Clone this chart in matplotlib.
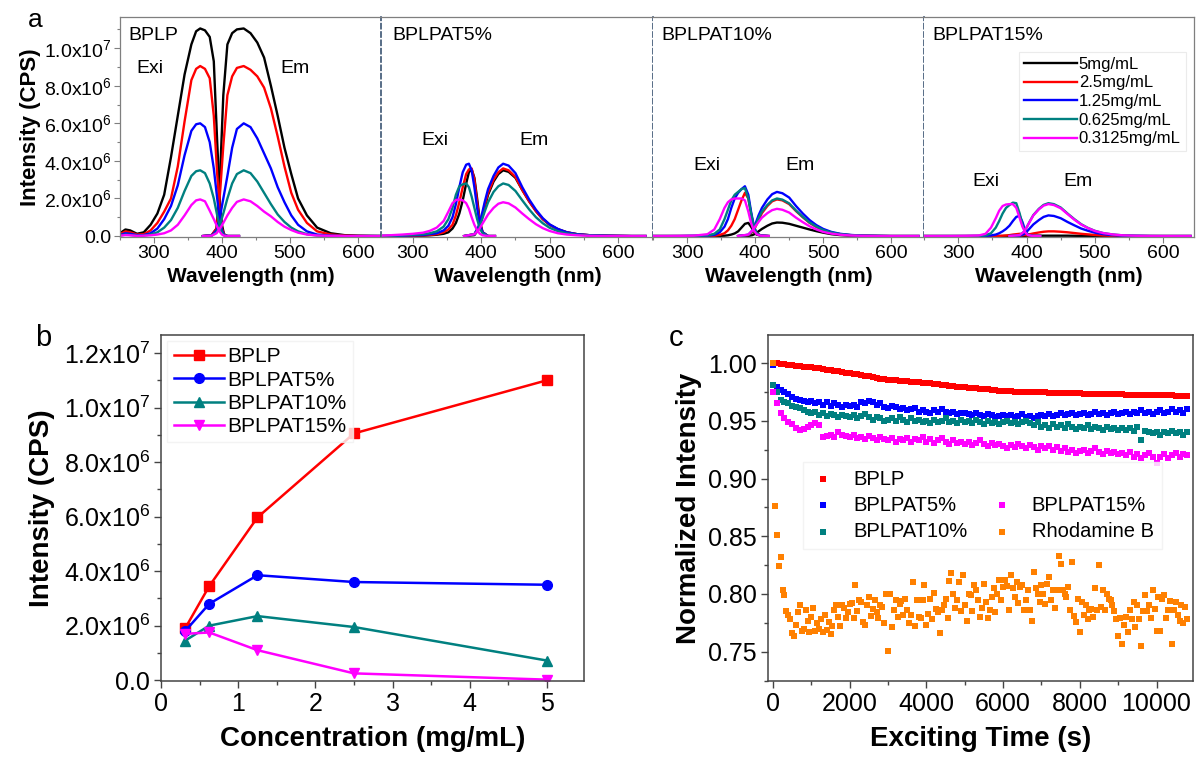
import matplotlib
matplotlib.use('Agg')
import matplotlib.pyplot as plt
from matplotlib.lines import Line2D
from matplotlib.ticker import MultipleLocator, FuncFormatter
import numpy as np
import math

plt.rcParams['font.family'] = ['Liberation Sans', 'DejaVu Sans']
plt.rcParams['mathtext.fontset'] = 'custom'
plt.rcParams['mathtext.rm'] = 'Liberation Sans'
plt.rcParams['mathtext.default'] = 'regular'

W, H = 1196, 757

# ---------------- data ----------------
conc_labels = ['5mg/mL', '2.5mg/mL', '1.25mg/mL', '0.625mg/mL', '0.3125mg/mL']
conc_colors = ['#000000', '#FF0000', '#0000FF', '#008080', '#FF00FF']
samples = ['BPLP', 'BPLPAT5%', 'BPLPAT10%', 'BPLPAT15%']

# spectra, intensity in units of 1e6 CPS; rows follow conc_labels
exi_wl_bplp = [250, 258, 265, 275, 285, 295, 305, 315, 325, 335, 345, 355, 362,
               368, 375, 382, 388, 393, 397, 400, 403, 408, 425]
exi_bplp = [
    [0.15, 0.35, 0.3, 0.12, 0.2, 0.6, 1.2, 2.2, 4.2, 6.4, 8.6, 10.2, 10.9, 11.05, 10.95, 10.6, 9.3, 5.0, 1.8, 0.6, 0.1, 0.0, 0.0],
    [0.1, 0.25, 0.2, 0.08, 0.1, 0.3, 0.7, 1.3, 2.0, 3.7, 6.1, 8.3, 8.9, 9.05, 8.9, 8.4, 6.4, 3.3, 1.3, 0.4, 0.08, 0.0, 0.0],
    [0.05, 0.15, 0.12, 0.05, 0.05, 0.15, 0.4, 0.9, 1.6, 2.7, 4.3, 5.6, 5.95, 6.0, 5.8, 5.0, 3.6, 2.0, 0.8, 0.3, 0.06, 0.0, 0.0],
    [0.03, 0.08, 0.06, 0.02, 0.03, 0.08, 0.2, 0.45, 0.85, 1.5, 2.4, 3.2, 3.45, 3.5, 3.35, 2.8, 2.0, 1.1, 0.5, 0.18, 0.04, 0.0, 0.0],
    [0.02, 0.05, 0.04, 0.01, 0.02, 0.04, 0.08, 0.15, 0.3, 0.6, 1.1, 1.65, 1.9, 1.95, 1.85, 1.35, 0.9, 0.5, 0.22, 0.08, 0.02, 0.0, 0.0],
]
em_wl_bplp = [372, 385, 392, 397, 402, 408, 415, 422, 432, 442, 452, 462, 472, 482,
              492, 502, 512, 525, 540, 560, 580, 600, 620, 640]
em_bplp = [
    [0, 0.05, 0.4, 3.0, 7.5, 10.2, 10.8, 11.0, 11.05, 10.8, 10.3, 9.5, 8.0, 6.4, 4.7, 3.3, 2.0, 1.1, 0.45, 0.15, 0.05, 0.02, 0.01, 0],
    [0, 0.05, 0.4, 2.2, 4.8, 7.5, 8.5, 8.95, 9.05, 8.85, 8.5, 7.9, 6.8, 5.3, 3.7, 2.3, 1.4, 0.7, 0.25, 0.08, 0.03, 0.01, 0, 0],
    [0, 0.03, 0.3, 1.0, 2.0, 3.2, 4.7, 5.7, 6.0, 5.8, 5.2, 4.4, 3.6, 2.6, 1.8, 1.1, 0.6, 0.25, 0.08, 0.02, 0, 0, 0, 0],
    [0, 0.03, 0.2, 0.6, 1.2, 2.0, 2.8, 3.3, 3.5, 3.35, 2.9, 2.3, 1.7, 1.15, 0.75, 0.45, 0.25, 0.1, 0.03, 0.01, 0, 0, 0, 0],
    [0, 0.02, 0.15, 0.4, 0.7, 1.1, 1.5, 1.82, 1.95, 1.85, 1.6, 1.3, 1.05, 0.75, 0.5, 0.32, 0.18, 0.08, 0.03, 0.01, 0, 0, 0, 0],
]

exi_wl_at5 = [255, 270, 285, 300, 315, 325, 335, 345, 352, 358, 363, 368, 373, 378,
              382, 386, 390, 394, 398, 402, 410, 420]
exi_at5 = [
    [0, 0, 0, 0.01, 0.02, 0.04, 0.07, 0.12, 0.2, 0.4, 0.7, 1.2, 1.9, 2.8, 3.4, 3.55, 3.1, 2.0, 0.8, 0.2, 0, 0],
    [0, 0, 0.01, 0.02, 0.04, 0.06, 0.1, 0.2, 0.35, 0.6, 1.1, 1.8, 2.6, 3.3, 3.55, 3.6, 3.0, 1.8, 0.7, 0.2, 0, 0],
    [0, 0.01, 0.02, 0.04, 0.06, 0.1, 0.15, 0.3, 0.55, 1.0, 1.7, 2.6, 3.4, 3.8, 3.85, 3.5, 2.6, 1.5, 0.6, 0.2, 0, 0],
    [0.01, 0.02, 0.04, 0.07, 0.1, 0.15, 0.25, 0.5, 0.9, 1.5, 2.2, 2.65, 2.75, 2.8, 2.6, 2.1, 1.5, 0.9, 0.4, 0.15, 0, 0],
    [0.02, 0.05, 0.08, 0.12, 0.18, 0.28, 0.45, 0.8, 1.3, 1.75, 1.92, 1.95, 1.9, 1.75, 1.45, 1.0, 0.6, 0.3, 0.12, 0.04, 0, 0],
]
em_wl = [375, 390, 396, 400, 405, 410, 418, 425, 432, 440, 450, 460, 470, 480,
         490, 500, 512, 525, 540, 560, 580, 600, 620, 640]
em_at5 = [
    [0, 0.05, 0.35, 0.8, 1.5, 2.2, 2.9, 3.3, 3.5, 3.42, 3.1, 2.45, 1.85, 1.33, 0.9, 0.6, 0.36, 0.2, 0.1, 0.04, 0.02, 0.01, 0, 0],
    [0, 0.1, 0.45, 0.9, 1.65, 2.3, 3.0, 3.4, 3.6, 3.5, 3.15, 2.45, 1.85, 1.32, 0.9, 0.6, 0.36, 0.2, 0.1, 0.04, 0.02, 0.01, 0, 0],
    [0, 0.1, 0.5, 1.0, 1.8, 2.5, 3.2, 3.65, 3.85, 3.75, 3.35, 2.6, 1.95, 1.4, 0.95, 0.62, 0.38, 0.2, 0.1, 0.04, 0.02, 0.01, 0, 0],
    [0, 0.1, 0.4, 0.75, 1.3, 1.8, 2.35, 2.65, 2.8, 2.72, 2.4, 1.9, 1.42, 1.0, 0.68, 0.44, 0.26, 0.14, 0.07, 0.03, 0.01, 0, 0, 0],
    [0, 0.1, 0.3, 0.55, 0.85, 1.15, 1.5, 1.72, 1.8, 1.74, 1.52, 1.2, 0.9, 0.63, 0.42, 0.27, 0.15, 0.08, 0.04, 0.01, 0, 0, 0, 0],
]

exi_wl = [250, 270, 290, 310, 330, 340, 348, 355, 360, 365, 370, 375, 380, 385,
          390, 394, 398, 402, 408, 420]
exi_at10 = [
    [0, 0, 0, 0, 0, 0, 0.01, 0.02, 0.04, 0.08, 0.14, 0.25, 0.45, 0.65, 0.7, 0.5, 0.25, 0.08, 0.02, 0],
    [0, 0, 0, 0, 0.01, 0.02, 0.06, 0.15, 0.3, 0.55, 0.9, 1.4, 1.9, 2.3, 2.0, 1.2, 0.5, 0.15, 0.03, 0],
    [0, 0, 0, 0.01, 0.02, 0.06, 0.2, 0.5, 0.9, 1.5, 2.0, 2.3, 2.5, 2.65, 2.2, 1.3, 0.55, 0.15, 0.03, 0],
    [0, 0, 0, 0.01, 0.04, 0.12, 0.35, 0.9, 1.4, 1.9, 2.2, 2.35, 2.5, 2.55, 2.0, 1.2, 0.5, 0.15, 0.03, 0],
    [0, 0, 0.01, 0.02, 0.1, 0.35, 0.9, 1.5, 1.8, 1.95, 2.0, 2.0, 2.0, 1.9, 1.3, 0.7, 0.3, 0.1, 0.02, 0],
]
em_at10 = [
    [0, 0.01, 0.05, 0.12, 0.25, 0.38, 0.55, 0.67, 0.72, 0.71, 0.65, 0.55, 0.45, 0.35, 0.26, 0.18, 0.1, 0.05, 0.02, 0.01, 0, 0, 0, 0],
    [0, 0.05, 0.22, 0.45, 0.85, 1.22, 1.6, 1.85, 1.95, 1.9, 1.7, 1.33, 1.0, 0.7, 0.48, 0.31, 0.18, 0.1, 0.05, 0.02, 0.01, 0, 0, 0],
    [0, 0.07, 0.3, 0.6, 1.1, 1.5, 1.95, 2.23, 2.35, 2.28, 2.05, 1.6, 1.2, 0.85, 0.58, 0.38, 0.22, 0.12, 0.06, 0.02, 0.01, 0, 0, 0],
    [0, 0.06, 0.26, 0.52, 0.94, 1.3, 1.66, 1.9, 2.0, 1.94, 1.74, 1.36, 1.02, 0.72, 0.5, 0.32, 0.19, 0.1, 0.05, 0.02, 0.01, 0, 0, 0],
    [0, 0.08, 0.3, 0.5, 0.75, 0.98, 1.22, 1.38, 1.45, 1.4, 1.25, 0.98, 0.74, 0.52, 0.35, 0.22, 0.13, 0.07, 0.03, 0.01, 0, 0, 0, 0],
]

exi_at15 = [
    [0, 0, 0, 0, 0, 0, 0, 0, 0, 0, 0.01, 0.01, 0.02, 0.02, 0.02, 0.01, 0.01, 0, 0, 0],
    [0, 0, 0, 0, 0, 0, 0, 0.01, 0.01, 0.02, 0.03, 0.05, 0.08, 0.1, 0.12, 0.1, 0.06, 0.03, 0.01, 0],
    [0, 0, 0, 0, 0, 0.01, 0.03, 0.08, 0.15, 0.25, 0.38, 0.55, 0.8, 1.02, 1.08, 0.75, 0.3, 0.08, 0.01, 0],
    [0, 0, 0, 0, 0.01, 0.04, 0.15, 0.45, 0.8, 1.2, 1.5, 1.65, 1.78, 1.75, 1.2, 0.6, 0.22, 0.06, 0.01, 0],
    [0, 0, 0, 0.01, 0.03, 0.12, 0.45, 0.95, 1.35, 1.6, 1.68, 1.7, 1.7, 1.5, 0.95, 0.5, 0.2, 0.06, 0.01, 0],
]
em_at15 = [
    [0, 0, 0, 0, 0.005, 0.01, 0.015, 0.02, 0.02, 0.02, 0.02, 0.02, 0.015, 0.01, 0.005, 0, 0, 0, 0, 0, 0, 0, 0, 0],
    [0, 0.02, 0.05, 0.07, 0.1, 0.14, 0.19, 0.23, 0.25, 0.25, 0.23, 0.2, 0.16, 0.12, 0.09, 0.06, 0.03, 0.015, 0.005, 0, 0, 0, 0, 0],
    [0, 0.02, 0.1, 0.22, 0.42, 0.62, 0.85, 1.02, 1.1, 1.07, 0.95, 0.75, 0.57, 0.4, 0.28, 0.18, 0.1, 0.05, 0.02, 0.01, 0, 0, 0, 0],
    [0, 0.05, 0.22, 0.45, 0.8, 1.12, 1.45, 1.66, 1.75, 1.7, 1.52, 1.2, 0.9, 0.63, 0.43, 0.28, 0.16, 0.09, 0.04, 0.015, 0.005, 0, 0, 0],
    [0, 0.05, 0.22, 0.45, 0.78, 1.1, 1.42, 1.62, 1.7, 1.65, 1.48, 1.17, 0.87, 0.61, 0.42, 0.27, 0.16, 0.09, 0.04, 0.015, 0.005, 0, 0, 0],
]

# peak emission vs concentration (CPS)
conc = [0.3125, 0.625, 1.25, 2.5, 5]
peak_bplp = [1.9e6, 3.45e6, 5.97e6, 9.05e6, 1.1e7]
peak_at5 = [1.8e6, 2.8e6, 3.85e6, 3.6e6, 3.5e6]
peak_at10 = [1.45e6, 2.0e6, 2.35e6, 1.95e6, 0.72e6]
peak_at15 = [1.7e6, 1.75e6, 1.1e6, 0.25e6, 0.02e6]

# photostability, normalized intensity sampled every 100 s (Rhodamine B every 50 s)
t_100 = np.arange(0, 10801, 100)
t_50 = np.arange(0, 10801, 50)
ps_bplp = [
    1.0000, 0.9998, 0.9995, 0.9990, 0.9987, 0.9983, 0.9978, 0.9975, 0.9970, 0.9966, 0.9962,
    0.9957, 0.9953, 0.9949, 0.9944, 0.9940, 0.9935, 0.9929, 0.9922, 0.9916, 0.9910,
    0.9905, 0.9901, 0.9896, 0.9890, 0.9885, 0.9878, 0.9872, 0.9866, 0.9861, 0.9857,
    0.9853, 0.9850, 0.9846, 0.9843, 0.9841, 0.9838, 0.9835, 0.9833, 0.9831, 0.9829,
    0.9825, 0.9821, 0.9817, 0.9813, 0.9809, 0.9805, 0.9800, 0.9796, 0.9793, 0.9790,
    0.9786, 0.9783, 0.9780, 0.9778, 0.9775, 0.9772, 0.9770, 0.9766, 0.9762, 0.9758,
    0.9756, 0.9755, 0.9753, 0.9752, 0.9751, 0.9750, 0.9749, 0.9748, 0.9747, 0.9746,
    0.9745, 0.9744, 0.9743, 0.9742, 0.9741, 0.9740, 0.9739, 0.9738, 0.9738, 0.9737,
    0.9736, 0.9735, 0.9734, 0.9733, 0.9733, 0.9732, 0.9731, 0.9730, 0.9729, 0.9729,
    0.9728, 0.9727, 0.9726, 0.9725, 0.9725, 0.9724, 0.9723, 0.9723, 0.9722, 0.9722,
    0.9721, 0.9720, 0.9719, 0.9719, 0.9718, 0.9717, 0.9716, 0.9715,
]
ps_at5 = [
    0.998, 0.979, 0.977, 0.975, 0.973, 0.971, 0.969, 0.968, 0.967, 0.966, 0.967,
    0.965, 0.966, 0.964, 0.966, 0.963, 0.965, 0.964, 0.962, 0.964, 0.963,
    0.964, 0.962, 0.966, 0.965, 0.967, 0.966, 0.964, 0.965, 0.962, 0.961,
    0.963, 0.962, 0.960, 0.961, 0.959, 0.960, 0.961, 0.958, 0.959, 0.958,
    0.957, 0.959, 0.958, 0.960, 0.958, 0.957, 0.958, 0.956, 0.957, 0.957,
    0.956, 0.955, 0.957, 0.955, 0.954, 0.956, 0.955, 0.953, 0.954, 0.955,
    0.954, 0.955, 0.953, 0.954, 0.956, 0.953, 0.954, 0.952, 0.954, 0.955,
    0.954, 0.956, 0.954, 0.955, 0.957, 0.955, 0.956, 0.957, 0.955, 0.956,
    0.957, 0.955, 0.956, 0.958, 0.956, 0.957, 0.955, 0.957, 0.958, 0.956,
    0.957, 0.958, 0.956, 0.958, 0.957, 0.959, 0.957, 0.958, 0.956, 0.958,
    0.959, 0.957, 0.958, 0.960, 0.958, 0.959, 0.957, 0.960,
]
ps_at10 = [
    0.981, 0.975, 0.968, 0.966, 0.965, 0.963, 0.962, 0.961, 0.959, 0.958, 0.957,
    0.958, 0.955, 0.957, 0.954, 0.956, 0.955, 0.953, 0.955, 0.954, 0.953,
    0.955, 0.952, 0.954, 0.956, 0.953, 0.951, 0.953, 0.952, 0.950, 0.951,
    0.952, 0.950, 0.953, 0.951, 0.949, 0.952, 0.950, 0.951, 0.949, 0.950,
    0.948, 0.951, 0.949, 0.950, 0.952, 0.949, 0.950, 0.948, 0.951, 0.949,
    0.950, 0.948, 0.951, 0.949, 0.947, 0.950, 0.948, 0.949, 0.947, 0.949,
    0.950, 0.948, 0.949, 0.947, 0.949, 0.950, 0.948, 0.946, 0.949, 0.945,
    0.946, 0.944, 0.947, 0.945, 0.946, 0.944, 0.947, 0.945, 0.943, 0.945,
    0.944, 0.946, 0.943, 0.945, 0.944, 0.942, 0.945, 0.943, 0.944, 0.942,
    0.944, 0.942, 0.944, 0.941, 0.945, 0.933, 0.941, 0.940, 0.939, 0.940,
    0.938, 0.940, 0.939, 0.941, 0.939, 0.940, 0.938, 0.940,
]
ps_at15 = [
    0.975, 0.965, 0.957, 0.952, 0.949, 0.947, 0.944, 0.942, 0.943, 0.945, 0.946,
    0.948, 0.946, 0.936, 0.937, 0.938, 0.936, 0.940, 0.938, 0.937, 0.936,
    0.938, 0.935, 0.936, 0.934, 0.937, 0.935, 0.933, 0.936, 0.934, 0.933,
    0.935, 0.932, 0.934, 0.933, 0.935, 0.932, 0.934, 0.933, 0.936, 0.932,
    0.934, 0.931, 0.933, 0.935, 0.932, 0.930, 0.933, 0.931, 0.932, 0.930,
    0.932, 0.929, 0.931, 0.933, 0.930, 0.928, 0.931, 0.929, 0.930, 0.928,
    0.926, 0.929, 0.927, 0.930, 0.928, 0.926, 0.929, 0.927, 0.925, 0.928,
    0.926, 0.928, 0.925, 0.927, 0.924, 0.926, 0.923, 0.925, 0.922, 0.924,
    0.925, 0.922, 0.924, 0.926, 0.923, 0.921, 0.924, 0.922, 0.923, 0.921,
    0.922, 0.920, 0.923, 0.919, 0.921, 0.918, 0.920, 0.922, 0.919, 0.913,
    0.919, 0.921, 0.918, 0.920, 0.922, 0.919, 0.921, 0.920,
]
ps_rhb = [
    1.000, 0.876, 0.851, 0.824, 0.832, 0.803, 0.799, 0.785, 0.782,
    0.778, 0.766, 0.764, 0.773, 0.784, 0.790, 0.768, 0.770, 0.786, 0.777, 0.767, 0.780,
    0.788, 0.768, 0.775, 0.770, 0.778, 0.767, 0.782, 0.769, 0.776, 0.765,
    0.772, 0.786, 0.790, 0.780, 0.772, 0.790, 0.788, 0.779, 0.784, 0.791,
    0.792, 0.779, 0.808, 0.785, 0.795, 0.793, 0.776, 0.773, 0.790, 0.797,
    0.781, 0.787, 0.795, 0.784, 0.779, 0.790, 0.789, 0.775, 0.800, 0.751,
    0.800, 0.771, 0.786, 0.795, 0.780, 0.791, 0.794, 0.782, 0.796, 0.786,
    0.775, 0.782, 0.810, 0.772, 0.795, 0.780, 0.779, 0.795, 0.808, 0.773,
    0.783, 0.796, 0.778, 0.801, 0.787, 0.784, 0.766, 0.786, 0.790, 0.796,
    0.779, 0.811, 0.818, 0.800, 0.788, 0.795, 0.810, 0.785, 0.816, 0.790,
    0.777, 0.800, 0.799, 0.785, 0.808, 0.803, 0.795, 0.780, 0.788, 0.809,
    0.793, 0.779, 0.786, 0.797, 0.805, 0.784, 0.800, 0.812, 0.795, 0.806,
    0.812, 0.807, 0.786, 0.816, 0.805, 0.797, 0.810, 0.792, 0.806, 0.808,
    0.786, 0.795, 0.803, 0.786, 0.777, 0.819, 0.805, 0.800, 0.793, 0.808,
    0.800, 0.791, 0.809, 0.815, 0.795, 0.803, 0.788, 0.803, 0.833, 0.826,
    0.803, 0.800, 0.797, 0.806, 0.786, 0.828, 0.781, 0.776, 0.796, 0.767,
    0.793, 0.782, 0.790, 0.778, 0.786, 0.787, 0.780, 0.805, 0.786, 0.825,
    0.789, 0.803, 0.786, 0.800, 0.796, 0.795, 0.790, 0.785, 0.778, 0.764,
    0.779, 0.757, 0.773, 0.780, 0.767, 0.786, 0.778, 0.793, 0.771, 0.790,
    0.778, 0.755, 0.785, 0.799, 0.785, 0.790, 0.779, 0.803, 0.787, 0.768,
    0.797, 0.768, 0.796, 0.799, 0.779, 0.786, 0.794, 0.757, 0.786, 0.793,
    0.782, 0.777, 0.790, 0.775, 0.789, 0.778,
]


def sci_fmt(v, pos):
    if abs(v) < 1:
        return '0.0'
    e = int(math.floor(math.log10(abs(v)) + 1e-9))
    return '%.1fx10$^{%d}$' % (v / 10 ** e, e)


def px_axes(left, top, right, bottom):
    return fig.add_axes([left / W, 1 - bottom / H, (right - left) / W, (bottom - top) / H])


fig = plt.figure(figsize=(W / 100, H / 100), dpi=100)

frame_a = '#7f7f7f'
sep_color = '#3b5472'

# ---------------- panel a ----------------
bounds = [(120, 381), (382, 653), (653, 924), (924, 1194)]
xlims = [(250, 634), (255, 651), (250, 648), (250, 645)]
exi_sets = [(exi_wl_bplp, exi_bplp), (exi_wl_at5, exi_at5), (exi_wl, exi_at10), (exi_wl, exi_at15)]
em_sets = [(em_wl_bplp, em_bplp), (em_wl, em_at5), (em_wl, em_at10), (em_wl, em_at15)]
title_pos = [262, 270, 263, 262]
exi_pos = [(294, 8.93e6), (332, 5.08e6), (329, 3.76e6), (340, 2.88e6)]
em_pos = [(507, 8.93e6), (477, 5.08e6), (466, 3.78e6), (476, 2.88e6)]

axes_a = []
for i in range(4):
    ax = px_axes(bounds[i][0], 17, bounds[i][1], 237)
    axes_a.append(ax)
    wl_x, exi_y = exi_sets[i]
    wl_m, em_y = em_sets[i]
    for k in range(5):
        ax.plot(wl_x, np.array(exi_y[k]) * 1e6, color=conc_colors[k], lw=1.7,
                label=conc_labels[k] if i == 3 else None)
        ax.plot(wl_m, np.array(em_y[k]) * 1e6, color=conc_colors[k], lw=1.7)
    ax.set_xlim(*xlims[i])
    ax.set_ylim(-0.05e6, 11.66e6)
    ax.xaxis.set_major_locator(MultipleLocator(100))
    ax.xaxis.set_minor_locator(MultipleLocator(50))
    ax.tick_params(axis='x', which='major', length=4, width=0.8, color=frame_a,
                   labelsize=14, pad=2)
    ax.tick_params(axis='x', which='minor', length=2.5, width=0.8, color=frame_a)
    for s in ax.spines.values():
        s.set_color(frame_a)
        s.set_linewidth(0.9)
    if i > 0:
        ax.spines['left'].set_visible(False)
        ax.tick_params(axis='y', which='both', left=False, labelleft=False)
    else:
        ax.yaxis.set_major_locator(MultipleLocator(2e6))
        ax.yaxis.set_minor_locator(MultipleLocator(1e6))
        ax.yaxis.set_major_formatter(FuncFormatter(sci_fmt))
        ax.tick_params(axis='y', which='major', length=4, width=0.8, color=frame_a,
                       labelsize=14, pad=2)
        ax.tick_params(axis='y', which='minor', length=2.5, width=0.8, color=frame_a)
        ax.set_ylabel('Intensity (CPS)', fontsize=16, fontweight='bold', labelpad=2)
    if i < 3:
        ax.spines['right'].set_color(sep_color)
        ax.spines['right'].set_linestyle((0, (3, 2)))
        ax.spines['right'].set_linewidth(1.2)
    ax.set_xlabel('Wavelength (nm)', fontsize=15, fontweight='bold', labelpad=3)
    ax.text(title_pos[i], 10.65e6, samples[i], fontsize=14, va='center', ha='left')
    ax.text(exi_pos[i][0], exi_pos[i][1], 'Exi', fontsize=14, va='center', ha='center')
    ax.text(em_pos[i][0], em_pos[i][1], 'Em', fontsize=14, va='center', ha='center')

leg_a = axes_a[3].legend(loc='upper right', bbox_to_anchor=(1.0, 0.88), fontsize=12,
                         handlelength=3.2, handletextpad=0.1, labelspacing=0.22,
                         borderpad=0.3, frameon=True, fancybox=False)
leg_a.get_frame().set_edgecolor('#e6e6e6')
leg_a.get_frame().set_linewidth(0.8)

fig.text(35 / W, 1 - 20 / H, 'a', fontsize=19, ha='center', va='center')

# ---------------- panel b ----------------
axb = px_axes(161, 335, 584, 681)
series_b = [(peak_bplp, 'BPLP', '#FF0000', 's'), (peak_at5, 'BPLPAT5%', '#0000FF', 'o'),
            (peak_at10, 'BPLPAT10%', '#008080', '^'), (peak_at15, 'BPLPAT15%', '#FF00FF', 'v')]
for vals, name, col, mk in series_b:
    axb.plot(conc, vals, color=col, marker=mk, markersize=7, lw=1.8, label=name)
axb.set_xlim(0, 5.48)
axb.set_ylim(-0.03e6, 1.266e7)
axb.xaxis.set_major_locator(MultipleLocator(1))
axb.xaxis.set_minor_locator(MultipleLocator(0.5))
axb.yaxis.set_major_locator(MultipleLocator(2e6))
axb.yaxis.set_minor_locator(MultipleLocator(1e6))
axb.yaxis.set_major_formatter(FuncFormatter(sci_fmt))
axb.tick_params(which='major', length=5, width=1, color='#444444', labelsize=18, pad=3)
axb.tick_params(which='minor', length=3, width=1, color='#444444')
for s in axb.spines.values():
    s.set_color('#444444')
    s.set_linewidth(1.1)
axb.set_xlabel('Concentration (mg/mL)', fontsize=20, fontweight='bold', labelpad=7)
axb.set_ylabel('Intensity (CPS)', fontsize=20, fontweight='bold', labelpad=6)
leg_b = axb.legend(loc='upper left', bbox_to_anchor=(0.0, 1.0), fontsize=15,
                   handlelength=2.4, handletextpad=0.2, labelspacing=0.2,
                   borderpad=0.3, borderaxespad=0.3, frameon=True, fancybox=False)
leg_b.get_frame().set_edgecolor('#f0f0f0')
fig.text(43 / W, 1 - 338 / H, 'b', fontsize=21, ha='center', va='center')

# ---------------- panel c ----------------
axc = px_axes(768, 335, 1193, 681)
series_c = [(t_100, ps_bplp, 'BPLP', '#FF0000'), (t_100, ps_at5, 'BPLPAT5%', '#0000FF'),
            (t_100, ps_at10, 'BPLPAT10%', '#008080'), (t_100, ps_at15, 'BPLPAT15%', '#FF00FF'),
            (t_50, ps_rhb, 'Rhodamine B', '#FF8000')]
handles = {}
for t, vals, name, col in series_c:
    handles[name] = axc.scatter(t, vals, marker='s', s=24, color=col, linewidths=0, label=name)
axc.set_xlim(-130, 10950)
axc.set_ylim(0.7246, 1.0243)
axc.xaxis.set_major_locator(MultipleLocator(2000))
axc.xaxis.set_minor_locator(MultipleLocator(1000))
axc.yaxis.set_major_locator(MultipleLocator(0.05))
axc.yaxis.set_minor_locator(MultipleLocator(0.025))
axc.yaxis.set_major_formatter(FuncFormatter(lambda v, p: '%.2f' % v))
axc.tick_params(which='major', length=5, width=1, color='#444444', labelsize=18, pad=3)
axc.tick_params(which='minor', length=3, width=1, color='#444444')
for s in axc.spines.values():
    s.set_color('#444444')
    s.set_linewidth(1.1)
axc.set_xlabel('Exciting Time (s)', fontsize=20, fontweight='bold', labelpad=7)
axc.set_ylabel('Normalized Intensity', fontsize=20, fontweight='bold', labelpad=4)
blank = Line2D([], [], linestyle='none', marker=None)
leg_c = axc.legend([handles['BPLP'], handles['BPLPAT5%'], handles['BPLPAT10%'], blank,
                    handles['BPLPAT15%'], handles['Rhodamine B']],
                   ['BPLP', 'BPLPAT5%', 'BPLPAT10%', '', 'BPLPAT15%', 'Rhodamine B'],
                   ncol=2, loc='upper left', bbox_to_anchor=(0.058, 0.663), fontsize=14.5,
                   handlelength=1.2, handletextpad=0.9, columnspacing=1.1,
                   labelspacing=0.35, borderpad=0.4, frameon=True, fancybox=False,
                   markerscale=0.8)
leg_c.get_frame().set_edgecolor('#f0f0f0')
fig.text(676 / W, 1 - 338 / H, 'c', fontsize=21, ha='center', va='center')

fig.savefig('out.png', dpi=100)
